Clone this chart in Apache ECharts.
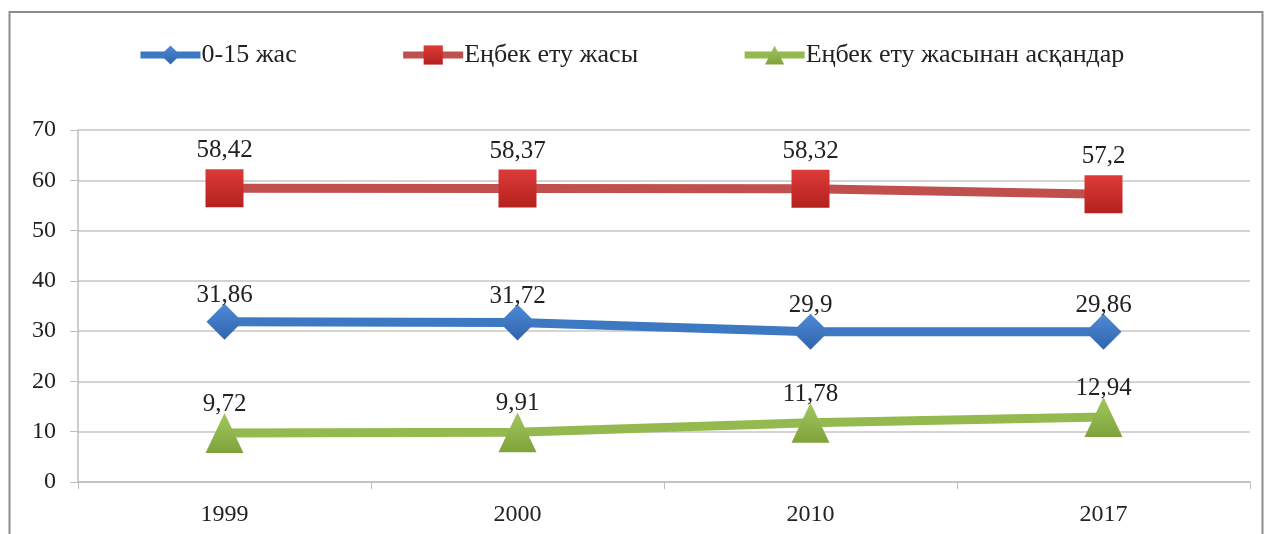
<!DOCTYPE html>
<html>
<head>
<meta charset="utf-8">
<script src="https://cdn.jsdelivr.net/npm/echarts@6/dist/echarts.min.js"></script>
<style>
html,body{margin:0;padding:0;background:#fff;}
#chart{width:1265px;height:534px;}
</style>
</head>
<body>
<div id="chart"></div>
<script>
const categories = ['1999', '2000', '2010', '2017'];
const seriesNames = ['0-15 жас', 'Еңбек ету жасы', 'Еңбек ету жасынан асқандар'];
const childValues = [31.86, 31.72, 29.9, 29.86];
const workingValues = [58.42, 58.37, 58.32, 57.2];
const elderlyValues = [9.72, 9.91, 11.78, 12.94];
const yTicks = { min: 0, max: 70, interval: 10 };

const FONT = '"Liberation Serif", "Times New Roman", serif';
const fmt = p => String(p.value).replace('.', ',');
const grad = (a, b) => new echarts.graphic.LinearGradient(0, 0, 0, 1, [
  { offset: 0, color: a }, { offset: 1, color: b }
]);

const colors = {
  blueLine: '#3d78c3', blueMark: grad('#4f8ad6', '#2f64ad'),
  redLine: '#c0504d', redMark: grad('#dc3b38', '#b4211f'),
  greenLine: '#94b94e', greenMark: grad('#a2c75e', '#7fa33a')
};

const chart = echarts.init(document.getElementById('chart'));
chart.setOption({
  animation: false,
  backgroundColor: '#fff',
  graphic: [{
    type: 'rect',
    shape: { x: 9.5, y: 12, width: 1253, height: 540 },
    style: { fill: 'none', stroke: '#8c8c8c', lineWidth: 2 },
    silent: true
  }],
  legend: {
    top: 37,
    left: 132,
    itemGap: 103,
    itemWidth: 60,
    itemHeight: 24,
    textStyle: { fontFamily: FONT, fontSize: 26, color: '#222', padding: [0, 0, 0, -4] },
    data: [
      { name: seriesNames[0], lineStyle: { width: 7 } },
      { name: seriesNames[1], lineStyle: { width: 7 } },
      { name: seriesNames[2], lineStyle: { width: 7 } }
    ]
  },
  grid: { left: 78, right: 15, top: 130, bottom: 52, containLabel: false },
  xAxis: {
    type: 'category',
    data: categories,
    boundaryGap: true,
    axisLine: { lineStyle: { color: '#bdbdbd', width: 1.5 } },
    axisTick: { show: true, length: 7, lineStyle: { color: '#bdbdbd' } },
    axisLabel: { fontFamily: FONT, fontSize: 24, color: '#222', margin: 21 }
  },
  yAxis: {
    type: 'value',
    min: yTicks.min, max: yTicks.max, interval: yTicks.interval,
    axisLine: { show: true, lineStyle: { color: '#bdbdbd', width: 1.5 } },
    axisTick: { show: true, length: 8, lineStyle: { color: '#bdbdbd' } },
    splitLine: { lineStyle: { color: '#c6c6c6', width: 1.5 } },
    axisLabel: { fontFamily: FONT, fontSize: 24, color: '#222', margin: 22 }
  },
  series: [
    {
      name: seriesNames[0], type: 'line', data: childValues,
      symbol: 'diamond', symbolSize: 36,
      lineStyle: { color: colors.blueLine, width: 9 },
      itemStyle: { color: colors.blueMark },
      label: { show: true, position: 'top', distance: -4, formatter: fmt,
        fontFamily: FONT, fontSize: 25, color: '#222' },
      z: 3
    },
    {
      name: seriesNames[1], type: 'line', data: workingValues,
      symbol: 'rect', symbolSize: 38,
      lineStyle: { color: colors.redLine, width: 9 },
      itemStyle: { color: colors.redMark },
      label: { show: true, position: 'top', distance: 6, formatter: fmt,
        fontFamily: FONT, fontSize: 25, color: '#222' },
      z: 2
    },
    {
      name: seriesNames[2], type: 'line', data: elderlyValues,
      symbol: 'triangle', symbolSize: [38, 40],
      lineStyle: { color: colors.greenLine, width: 9 },
      itemStyle: { color: colors.greenMark },
      label: { show: true, position: 'top', distance: -4, formatter: fmt,
        fontFamily: FONT, fontSize: 25, color: '#222' },
      z: 1
    }
  ]
});
</script>
</body>
</html>
